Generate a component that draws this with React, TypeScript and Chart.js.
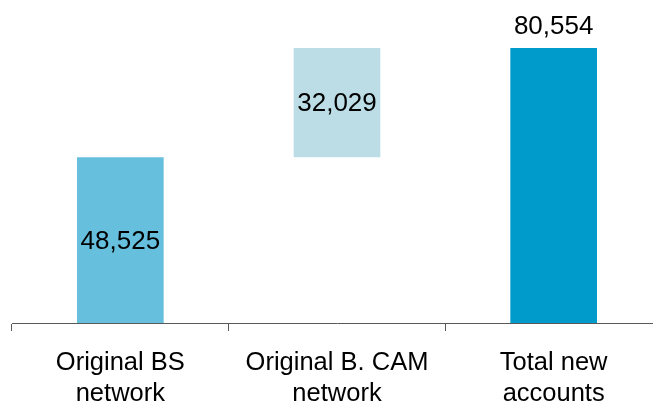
import React, { useEffect, useRef } from "react";
import { Chart, registerables } from "chart.js";

Chart.register(...registerables);

const categories: string[][] = [
  ["Original BS", "network"],
  ["Original B. CAM", "network"],
  ["Total new", "accounts"],
];
const increments: number[] = [48525, 32029];
const totalValue = 80554;
const valueLabels: string[] = ["48,525", "32,029", "80,554"];
const barColors: string[] = ["#66BFDD", "#BDDDE6", "#009BCB"];

const FONT = '"Liberation Sans", Arial, sans-serif';

const labelPlugin = {
  id: "valueLabels",
  afterDatasetsDraw(chart: any) {
    const ctx = chart.ctx;
    const meta = chart.getDatasetMeta(0);
    ctx.save();
    ctx.font = `26px ${FONT}`;
    ctx.fillStyle = "#000";
    ctx.textAlign = "center";
    ctx.textBaseline = "alphabetic";
    meta.data.forEach((bar: any, i: number) => {
      const { x, y, base } = bar.getProps(["x", "y", "base"], true);
      const top = Math.min(y, base);
      const bottom = Math.max(y, base);
      const label = valueLabels[i];
      if (i === meta.data.length - 1) {
        ctx.fillText(label, x, top - 14.5);
      } else {
        ctx.fillText(label, x, (top + bottom) / 2 + 8.5);
      }
    });
    ctx.restore();
  },
};

export default function App() {
  const canvasRef = useRef<HTMLCanvasElement | null>(null);

  useEffect(() => {
    if (!canvasRef.current) return;
    const floating: [number, number][] = [];
    let running = 0;
    increments.forEach((v) => {
      floating.push([running, running + v]);
      running += v;
    });
    floating.push([0, totalValue]);

    const chart = new Chart(canvasRef.current, {
      type: "bar",
      data: {
        labels: categories as any,
        datasets: [
          {
            data: floating as any,
            backgroundColor: barColors,
            borderWidth: 0,
            categoryPercentage: 1,
            barPercentage: 0.4,
          },
        ],
      },
      options: {
        animation: false,
        responsive: true,
        maintainAspectRatio: false,
        layout: { padding: { top: 48, left: 12, right: 8, bottom: 0 } },
        plugins: {
          legend: { display: false },
          tooltip: { enabled: false },
        },
        scales: {
          x: {
            offset: true,
            grid: {
              display: true,
              drawOnChartArea: false,
              drawTicks: true,
              tickLength: 8,
              offset: true,
              color: "#595959",
            },
            border: { display: true, color: "#595959", width: 1 },
            ticks: {
              color: "#000",
              font: { family: FONT, size: 25.5, lineHeight: 31.5 / 25.5 },
              padding: 16,
              maxRotation: 0,
              autoSkip: false,
            },
            afterFit: (s: any) => {
              s.height = 81;
            },
          },
          y: { display: false, min: 0, max: totalValue },
        },
      },
      plugins: [labelPlugin],
    });
    return () => chart.destroy();
  }, []);

  return (
    <div
      style={{
        position: "fixed",
        left: 0,
        top: 0,
        width: 653,
        height: 404,
        overflow: "hidden",
        background: "#fff",
      }}
    >
      <div style={{ position: "relative", width: 670, height: 404 }}>
        <canvas ref={canvasRef} />
      </div>
    </div>
  );
}
